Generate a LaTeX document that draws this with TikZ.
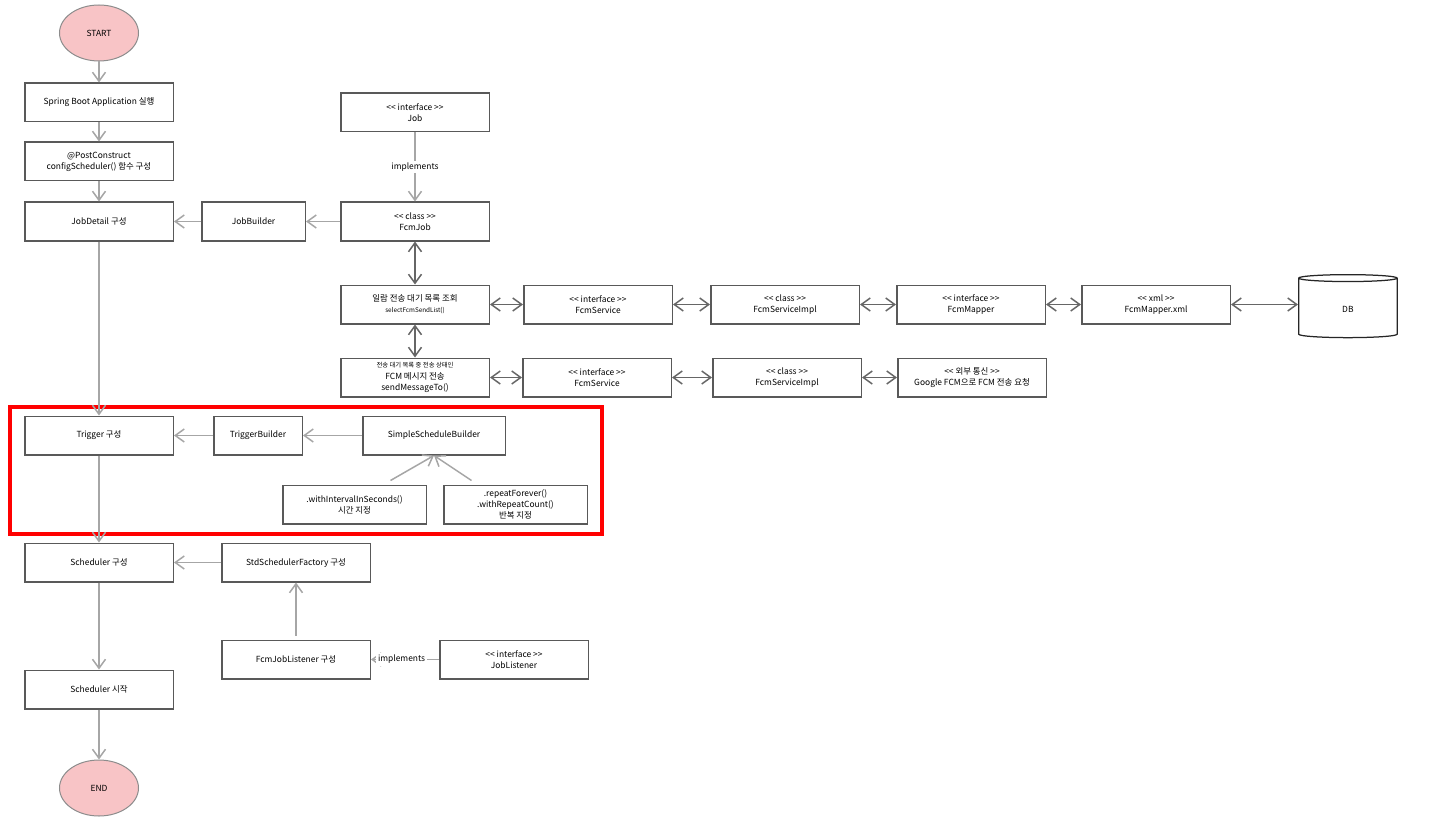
\documentclass[tikz,border=0pt]{standalone}
\usepackage{fontspec}
\setmainfont{Noto Sans CJK KR}
\usepackage{tikz}
\usetikzlibrary{positioning,arrows.meta,fit,shapes.geometric}
\usepackage{xcolor}
\definecolor{termpink}{HTML}{F8C4C6}
\newcommand{\stereo}[1]{<{}< #1 >{}>}

\begin{document}
\begin{tikzpicture}[
  font=\fontsize{4.8}{6.3}\selectfont, >={Straight Barb[length=1.8mm,width=2.6mm]},
  box/.style={draw=black!65, line width=0.3mm, fill=white, minimum width=29.7mm, minimum height=7.7mm, align=center, inner sep=1pt},
  term/.style={ellipse, draw=black!45, line width=0.2mm, fill=termpink, minimum width=15.8mm, minimum height=11.2mm},
  flow/.style={->, draw=black!35, line width=0.3mm},
  link/.style={<->, draw=black!60, line width=0.3mm},
  lbl/.style={fill=white, inner sep=1pt},
  redframe/.style={draw=red, line width=0.8mm},
]
\useasboundingbox (0,0) rectangle (286.4mm,-164mm);

% main flow
\node[term] (start) at (19.8mm,-6.6mm) {START};
\node[box, below=4.2mm of start] (boot) {Spring Boot Application 실행};
\node[box, below=3.8mm of boot] (post) {@PostConstruct\\configScheduler() 함수 구성};
\node[box, below=4mm of post] (jobdetail) {JobDetail 구성};
\node[box, below=34.8mm of jobdetail] (trigger) {Trigger 구성};
\node[box, below=17.4mm of trigger] (sched) {Scheduler 구성};
\node[box, below=17.4mm of sched] (schedstart) {Scheduler 시작};
\node[term, below=10mm of schedstart] (end) {END};

% job side
\node[box, right=5.4mm of jobdetail, minimum width=20.7mm] (jobbuilder) {JobBuilder};
\node[box, right=6.8mm of jobbuilder] (fcmjob) {\stereo{class}\\FcmJob};
\node[box, above=13.8mm of fcmjob] (job) {\stereo{interface}\\Job};
\node[box, below=8.6mm of fcmjob] (sel) {일람 전송 대기 목록 조회\\{\fontsize{3.6}{4.6}\selectfont selectFcmSendList()}};
\node[box, below=6.6mm of sel] (send) {{\fontsize{3.6}{4.6}\selectfont 전송 대기 목록 중 전송 상태인}\\FCM 메시지 전송\\sendMessageTo()};

% select row
\node[box, right=6.6mm of sel] (svc1) {\stereo{interface}\\FcmService};
\node[box, right=7.4mm of svc1] (impl1) {\stereo{class}\\FcmServiceImpl};
\node[box, right=7.2mm of impl1] (mapper) {\stereo{interface}\\FcmMapper};
\node[box, right=7mm of mapper] (xml) {\stereo{xml}\\FcmMapper.xml};
\node[cylinder, shape border rotate=90, aspect=0.3, draw=black!85, line width=0.25mm, fill=white,
  minimum width=19.7mm, minimum height=12.6mm, right=13.4mm of xml, yshift=-0.9mm] (db) {DB};

% send row
\node[box, right=6.4mm of send] (svc2) {\stereo{interface}\\FcmService};
\node[box, right=8mm of svc2] (impl2) {\stereo{class}\\FcmServiceImpl};
\node[box, right=7mm of impl2] (ext) {\stereo{외부 통신}\\Google FCM으로 FCM 전송 요청};

% trigger part
\node[box, right=7.8mm of trigger, minimum width=17.7mm] (trigbuilder) {TriggerBuilder};
\node[box, right=11.8mm of trigbuilder, minimum width=28.5mm] (ssb) {SimpleScheduleBuilder};
\node[box, below left=5.8mm and -13mm of ssb, minimum width=28.7mm] (interval) {.withIntervalInSeconds()\\시간 지정};
\node[box, below right=5.8mm and -12.6mm of ssb, minimum width=28.7mm] (repeat) {.repeatForever()\\.withRepeatCount()\\반복 지정};
\node[redframe, fit=(trigger)(repeat), inner xsep=2.8mm, inner ysep=1.8mm] (focus) {};

% scheduler part
\node[box, right=9.4mm of sched] (factory) {StdSchedulerFactory 구성};
\node[box, below=11.4mm of factory] (listener) {FcmJobListener 구성};
\node[box, right=13.6mm of listener] (joblistener) {\stereo{interface}\\JobListener};

% connectors
\draw[flow] (start) -- (boot);
\draw[flow] (boot) -- (post);
\draw[flow] (post) -- (jobdetail);
\draw[flow] (jobdetail) -- (trigger);
\draw[flow] (trigger) -- (sched);
\draw[flow] (sched) -- (schedstart);
\draw[flow] (schedstart) -- (end);

\draw[flow] (jobbuilder) -- (jobdetail);
\draw[flow] (fcmjob) -- (jobbuilder);
\draw[flow] (job) -- node[lbl]{implements} (fcmjob);
\draw[link] (fcmjob) -- (sel);
\draw[link] (sel) -- (send);
\foreach \a/\b in {sel/svc1, svc1/impl1, impl1/mapper, mapper/xml, send/svc2, svc2/impl2, impl2/ext}
  \draw[link] (\a) -- (\b);
\draw[link] (xml) -- (xml -| db.west);

\draw[flow] (trigbuilder) -- (trigger);
\draw[flow] (ssb) -- (trigbuilder);
\draw[flow] ([xshift=7.2mm,yshift=0.8mm]interval.north) -- (ssb.south);
\draw[flow] ([xshift=-8.8mm,yshift=0.8mm]repeat.north) -- (ssb.south);

\draw[flow] (factory) -- (sched);
\draw[flow] ([yshift=0.8mm]listener.north) -- (factory);
\draw[flow] (joblistener) -- node[lbl, pos=0.55]{implements} (listener);
\end{tikzpicture}
\end{document}
